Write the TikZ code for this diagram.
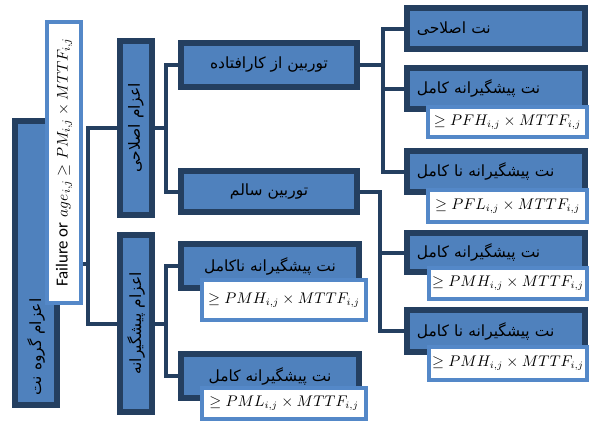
\documentclass[tikz,border=0pt]{standalone}
\usepackage{fontspec}
\usepackage{graphicx}
\newfontfamily\farsifont[Script=Arabic]{DejaVu Sans}
\newfontfamily\calibrifont{Carlito}
\TeXXeTstate=1
\newcommand{\fatext}[1]{{\farsifont\beginR #1\endR}}
\definecolor{boxblue}{RGB}{79,129,189}
\definecolor{boxnavy}{RGB}{36,63,96}
\definecolor{edgeblue}{RGB}{84,136,200}

\begin{document}
\begin{tikzpicture}[x=0.025cm, y=-0.025cm,
    darkbox/.style={rectangle, draw=boxnavy, line width=0.15cm, fill=boxblue, align=center, inner sep=0pt, font=\fontsize{11}{13}\selectfont},
    notebox/.style={rectangle, draw=edgeblue, line width=0.1cm, fill=white, align=center, inner sep=0pt, font=\fontsize{10.5}{12}\selectfont},
    leftbox/.style={text width=3.95cm, align=left, inner xsep=0.25cm},
    conn/.style={draw=boxnavy, line width=0.1cm}]
    \useasboundingbox (0,0) rectangle (589,423);

    % Nodes
    \node[darkbox, minimum width=1.05cm, minimum height=7.1cm] (root) at (36,263) {};
    \node[rotate=90, font=\fontsize{11}{13}\selectfont] (rootlabel) at (36,347) {\fatext{اعزام گروه نت}};
    \node[notebox, font=\fontsize{11}{13}\selectfont, minimum width=0.85cm, minimum height=7.025cm] (cond) at (64,162.5) {\rotatebox{90}{{\calibrifont\fontsize{12}{14}\selectfont Failure or} $age_{i,j} \geq PM_{i,j} \times MTTF_{i,j}$}};

    \node[darkbox, minimum width=0.8cm, minimum height=4.35cm] (corr) at (136,128) {\rotatebox{90}{\fatext{اعزام اصلاحی}}};
    \node[darkbox, minimum width=0.8cm, minimum height=4.425cm] (prev) at (136,323.5) {\rotatebox{90}{\fatext{اعزام پیشگیرانه}}};

    \node[darkbox, minimum width=4.4cm, minimum height=1.1cm] (failed) at (269,65) {\fatext{توربین از کارافتاده}};
    \node[darkbox, minimum width=4.4cm, minimum height=1.025cm] (healthy) at (269,191.5) {\fatext{توربین سالم}};
    \node[darkbox, minimum width=4.45cm, minimum height=1.1cm] (imperf) at (270,266) {\fatext{نت پیشگیرانه ناکامل}};
    \node[notebox, minimum width=4.1cm, minimum height=1.0cm] (imperfrule) at (284,300) {$\geq PMH_{i,j} \times MTTF_{i,j}$};
    \node[darkbox, minimum width=4.45cm, minimum height=1.1cm] (perf) at (270,376) {\fatext{نت پیشگیرانه کامل}};
    \node[notebox, minimum width=4.1cm, minimum height=0.775cm] (perfrule) at (284,403.5) {$\geq PML_{i,j} \times MTTF_{i,j}$};

    \node[darkbox, leftbox, minimum height=1.025cm] (fcorr) at (496,28.5) {\fatext{نت اصلاحی}};
    \node[darkbox, leftbox, minimum height=1.025cm] (fperf) at (496,88.5) {\fatext{نت پیشگیرانه کامل}};
    \node[notebox, minimum width=3.975cm, minimum height=0.75cm] (fperfrule) at (507.5,122) {$\geq PFH_{i,j} \times MTTF_{i,j}$};
    \node[darkbox, leftbox, minimum height=1.025cm] (fimperf) at (496,171.5) {\fatext{نت پیشگیرانه نا کامل}};
    \node[notebox, minimum width=3.975cm, minimum height=0.8cm] (fimperfrule) at (507.5,206) {$\geq PFL_{i,j} \times MTTF_{i,j}$};
    \node[darkbox, leftbox, minimum height=0.975cm] (hperf) at (496,252.5) {\fatext{نت پیشگیرانه کامل}};
    \node[notebox, minimum width=3.95cm, minimum height=0.775cm] (hperfrule) at (508,283.5) {$\geq PMH_{i,j} \times MTTF_{i,j}$};
    \node[darkbox, leftbox, minimum height=1.05cm] (himperf) at (496,331) {\fatext{نت پیشگیرانه نا کامل}};
    \node[notebox, minimum width=3.95cm, minimum height=0.825cm] (himperfrule) at (508,363.5) {$\geq PMH_{i,j} \times MTTF_{i,j}$};

    % Connectors
    \coordinate (j0) at (88,264);
    \coordinate (j1) at (166,128);
    \coordinate (j2) at (166,322);
    \coordinate (j3) at (383,65);
    \coordinate (j4) at (380,191.5);

    \draw[conn] (cond.east |- j0) -- (j0);
    \draw[conn] (corr.west) -| (j0) |- (prev.west);
    \draw[conn] (corr.east) -- (j1);
    \draw[conn] (failed.west) -| (j1) |- (healthy.west);
    \draw[conn] (prev.east) -- (prev.east -| j2);
    \draw[conn] (imperf.west) -| (j2) |- (perf.west);
    \draw[conn] (failed.east) -- (j3);
    \draw[conn] (fcorr.west) -| (j3) |- (fimperf.west);
    \draw[conn] (fperf.west) -- (fperf.west -| j3);
    \draw[conn] (healthy.east) -- (j4) |- (himperf.west);
    \draw[conn] (hperf.west) -- (hperf.west -| j4);
\end{tikzpicture}
\end{document}
